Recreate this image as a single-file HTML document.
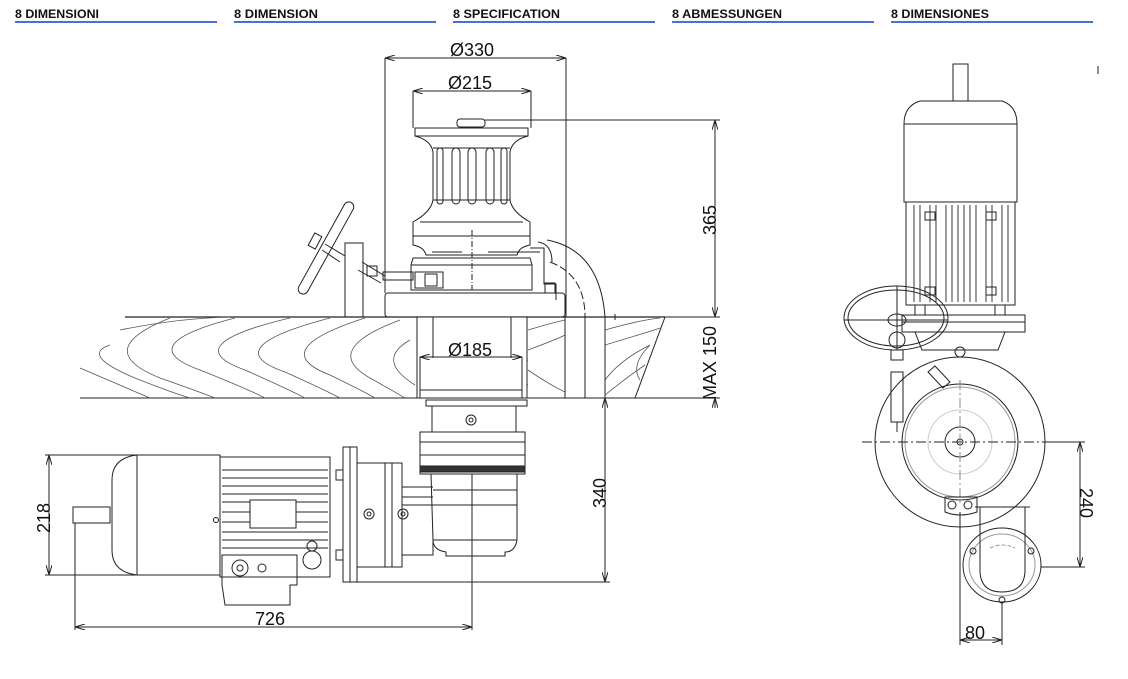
<!DOCTYPE html>
<html><head><meta charset="utf-8"><style>
html,body{margin:0;padding:0;background:#fff;}
svg{display:block}
.h{font-family:"Liberation Sans",sans-serif;font-weight:bold;font-size:12px;fill:#111;}
.d{font-family:"Liberation Sans",sans-serif;font-size:18px;fill:#111;}
</style></head><body>
<svg width="1128" height="679" viewBox="0 0 1128 679" xmlns="http://www.w3.org/2000/svg">
<defs>
<marker id="a" viewBox="0 0 10 6" refX="10" refY="3" markerWidth="10" markerHeight="6" orient="auto-start-reverse"><path d="M0,0 L10,3 L0,6" fill="none" stroke="#222" stroke-width="1"/></marker>
</defs>
<g class="h">
<text x="15" y="18" textLength="84" lengthAdjust="spacingAndGlyphs">8 DIMENSIONI</text>
<text x="234" y="18" textLength="84" lengthAdjust="spacingAndGlyphs">8 DIMENSION</text>
<text x="453" y="18" textLength="107" lengthAdjust="spacingAndGlyphs">8 SPECIFICATION</text>
<text x="672" y="18" textLength="110" lengthAdjust="spacingAndGlyphs">8 ABMESSUNGEN</text>
<text x="891" y="18" textLength="98" lengthAdjust="spacingAndGlyphs">8 DIMENSIONES</text>
</g>
<g fill="#4a6fd6">
<rect x="15" y="21" width="202" height="2"/><rect x="234" y="21" width="202" height="2"/>
<rect x="453" y="21" width="202" height="2"/><rect x="672" y="21" width="202" height="2"/>
<rect x="891" y="21" width="202" height="2"/>
</g>
<g fill="none" stroke="#222" stroke-width="1">
<line x1="125" y1="317" x2="665" y2="317" stroke-width="1.3"/>
<line x1="80" y1="398" x2="665" y2="398"/>
<line x1="665" y1="317" x2="635" y2="398"/>
<g stroke="#555" stroke-width="0.8">
<path d="M120,330 Q180,318 230,317"/>
<path d="M110,345 Q80,355 135,378 Q170,392 190,398"/>
<path d="M170,318 Q90,350 160,378 Q200,392 215,398"/>
<path d="M235,318 Q130,345 200,370 Q250,390 265,398"/>
<path d="M290,318 Q175,345 245,370 Q290,390 305,398"/>
<path d="M330,318 Q215,348 285,372 Q325,390 340,398"/>
<path d="M365,318 Q265,350 330,375 Q365,392 375,398"/>
<path d="M400,320 Q320,350 370,378 Q395,392 405,398"/>
<path d="M410,340 Q375,360 415,385"/>
<path d="M80,368 Q120,385 150,398"/>
<path d="M528,330 Q555,322 565,320"/>
<path d="M528,350 Q560,338 565,335"/>
<path d="M528,370 Q550,385 565,392"/>
<path d="M528,360 Q500,370 528,385"/>
<path d="M605,330 Q640,320 660,318"/>
<path d="M605,345 Q655,330 660,328"/>
<path d="M605,380 Q620,360 650,345 Q630,365 640,380"/>
<path d="M605,395 Q630,375 645,365"/>
</g>
<rect x="417" y="317" width="110" height="81" fill="#fff"/>
<line x1="433" y1="317" x2="433" y2="358"/><line x1="511" y1="317" x2="511" y2="358"/>
<rect x="420" y="357" width="102" height="41"/>
<line x1="420" y1="390" x2="522" y2="390"/>
<line x1="565" y1="317" x2="565" y2="398"/>
<line x1="585" y1="317" x2="585" y2="398"/>
<line x1="605" y1="317" x2="605" y2="398"/>
<rect x="457" y="119" width="28" height="8" rx="3"/>
<path d="M415,128 L528,128 L528,136 Q512,140 510,152 L510,200 Q512,212 530,222 L530,236 L413,236 L413,222 Q431,212 433,200 L433,152 Q431,140 415,136 Z"/>
<line x1="415" y1="136" x2="528" y2="136"/>
<line x1="433" y1="200" x2="510" y2="200"/>
<line x1="420" y1="222" x2="523" y2="222"/>
<rect x="437" y="148" width="6" height="56" rx="3"/><rect x="452" y="148" width="8" height="56" rx="4"/>
<rect x="468" y="148" width="8" height="56" rx="4"/><rect x="486" y="148" width="8" height="56" rx="4"/>
<rect x="501" y="148" width="6" height="56" rx="3"/>
<line x1="433" y1="148" x2="510" y2="148"/>
<path d="M413,236 L413,245 Q424,247 426,255 L517,255 Q519,247 530,245 L530,236"/>
<line x1="432" y1="252" x2="462" y2="252"/><line x1="488" y1="252" x2="540" y2="252"/>
<path d="M413,258 L530,258 L532,265 L532,290 L411,290 L411,265 Z"/>
<line x1="411" y1="265" x2="532" y2="265"/>
<rect x="415" y="272" width="28" height="16"/><rect x="425" y="274" width="12" height="12"/>
<line x1="472" y1="230" x2="472" y2="290" stroke-dasharray="6,2,1,2"/>
<rect x="385" y="293" width="180" height="24" rx="3"/>
<path d="M530,248 L544,248 L544,284 L556,284 L556,300"/>
<rect x="545" y="283" width="10" height="10"/>
<path d="M538,242 Q552,244 552,262"/>
<path d="M547,240 Q600,250 605,317"/>
<path d="M550,262 Q585,275 585,317" stroke-dasharray="8,3"/>
<path d="M572,317 L615,317 M615,314 L615,320"/>
<rect x="345" y="243" width="18" height="74"/>
<rect x="321" y="196" width="10" height="104" rx="5" transform="rotate(29 326 248)"/>
<rect x="311" y="234" width="8" height="14" transform="rotate(28 315 241)"/>
<path d="M325,244 L345,256 M322,250 L340,262"/>
<path d="M362,262 L385,276 M358,270 L381,283"/>
<rect x="367" y="266" width="10" height="10"/>
<rect x="383" y="272" width="30" height="8"/>
<line x1="385" y1="58" x2="385" y2="293"/>
<line x1="566" y1="58" x2="566" y2="317"/>
<line x1="385" y1="58" x2="566" y2="58" marker-start="url(#a)" marker-end="url(#a)"/>
<line x1="413" y1="91" x2="413" y2="128"/>
<line x1="531" y1="91" x2="531" y2="128"/>
<line x1="413" y1="91" x2="531" y2="91" marker-start="url(#a)" marker-end="url(#a)"/>
<line x1="485" y1="120" x2="720" y2="120"/>
<line x1="715" y1="120" x2="715" y2="317" marker-start="url(#a)" marker-end="url(#a)"/>
<line x1="665" y1="317" x2="720" y2="317"/>
<line x1="665" y1="398" x2="720" y2="398"/>
<line x1="715" y1="398" x2="715" y2="408" marker-start="url(#a)"/>
<line x1="420" y1="357" x2="522" y2="357" marker-start="url(#a)" marker-end="url(#a)"/>
<path d="M426,400 L527,400 L527,406 L426,406 Z"/>
<path d="M432,406 L516,406 L516,432 L432,432 Z"/>
<circle cx="471" cy="420" r="5"/><circle cx="471" cy="420" r="2"/>
<rect x="420" y="432" width="105" height="42"/>
<line x1="420" y1="442" x2="525" y2="442"/><line x1="420" y1="455" x2="525" y2="455"/>
<rect x="420" y="466" width="105" height="6" fill="#333"/>
<path d="M431,474 L517,474 L517,540 Q515,552 505,552 L505,556 L446,556 L446,552 Q433,550 433,540 Z"/>
<line x1="433" y1="490" x2="517" y2="490"/><line x1="433" y1="505" x2="517" y2="505"/><line x1="433" y1="540" x2="517" y2="540"/>
<line x1="472" y1="474" x2="472" y2="630"/>
<rect x="73" y="507" width="37" height="16"/>
<path d="M137,455 L220,455 L220,575 L137,575 Q112,572 112,550 L112,480 Q112,458 137,455 Z"/>
<line x1="137" y1="455" x2="137" y2="575"/>
<path d="M220,457 L330,457 L330,577 L220,577 Z"/>
<g stroke-width="0.9">
<line x1="222" y1="470" x2="328" y2="470"/><line x1="222" y1="478" x2="328" y2="478"/>
<line x1="222" y1="486" x2="328" y2="486"/><line x1="222" y1="494" x2="328" y2="494"/>
<line x1="222" y1="502" x2="250" y2="502"/><line x1="296" y1="502" x2="328" y2="502"/>
<line x1="222" y1="512" x2="250" y2="512"/><line x1="296" y1="512" x2="328" y2="512"/>
<line x1="222" y1="522" x2="250" y2="522"/><line x1="296" y1="522" x2="328" y2="522"/>
<line x1="222" y1="532" x2="328" y2="532"/><line x1="222" y1="540" x2="328" y2="540"/>
<line x1="222" y1="548" x2="328" y2="548"/>
</g>
<rect x="250" y="500" width="46" height="28"/>
<circle cx="216" cy="520" r="2.5"/>
<path d="M222,555 L297,555 L297,585 L290,585 L290,605 L225,605 L222,585 Z"/>
<circle cx="240" cy="568" r="8"/><circle cx="240" cy="568" r="3"/>
<circle cx="262" cy="568" r="4"/>
<circle cx="312" cy="560" r="9"/><circle cx="312" cy="546" r="5"/>
<rect x="343" y="447" width="14" height="135"/>
<line x1="350" y1="447" x2="350" y2="582"/>
<rect x="336" y="470" width="7" height="10"/><rect x="336" y="550" width="7" height="10"/>
<path d="M357,463 L385,463 L385,567 L357,567"/>
<circle cx="369" cy="514" r="5"/><circle cx="369" cy="514" r="2"/>
<rect x="385" y="463" width="17" height="104"/>
<line x1="392" y1="463" x2="392" y2="567"/>
<path d="M402,487 L433,487 M402,555 L433,555 L433,540"/>
<line x1="402" y1="497" x2="433" y2="497"/><line x1="402" y1="505" x2="433" y2="505"/>
<circle cx="403" cy="514" r="5"/><circle cx="403" cy="514" r="2"/>
<line x1="45" y1="455" x2="137" y2="455"/><line x1="45" y1="575" x2="137" y2="575"/>
<line x1="49" y1="455" x2="49" y2="575" marker-start="url(#a)" marker-end="url(#a)"/>
<line x1="75" y1="523" x2="75" y2="630"/>
<line x1="75" y1="627" x2="472" y2="627" marker-start="url(#a)" marker-end="url(#a)"/>
<line x1="357" y1="582" x2="610" y2="582"/>
<line x1="605" y1="398" x2="605" y2="582" marker-start="url(#a)" marker-end="url(#a)"/>
<rect x="953" y="64" width="15" height="37"/>
<path d="M920,101 L1002,101 Q1017,106 1017,124 L1017,202 L904,202 L904,124 Q904,106 920,101 Z"/>
<line x1="904" y1="124" x2="1017" y2="124"/>
<path d="M906,202 L1015,202 L1015,305 L906,305 Z"/>
<g stroke-width="0.9">
<line x1="914" y1="205" x2="914" y2="302"/><line x1="920" y1="205" x2="920" y2="302"/>
<line x1="930" y1="205" x2="930" y2="302"/><line x1="936" y1="205" x2="936" y2="302"/>
<line x1="946" y1="205" x2="946" y2="302"/><line x1="952" y1="205" x2="952" y2="302"/>
<line x1="958" y1="205" x2="958" y2="302"/><line x1="964" y1="205" x2="964" y2="302"/>
<line x1="970" y1="205" x2="970" y2="302"/><line x1="976" y1="205" x2="976" y2="302"/>
<line x1="986" y1="205" x2="986" y2="302"/><line x1="992" y1="205" x2="992" y2="302"/>
<line x1="1002" y1="205" x2="1002" y2="302"/><line x1="1008" y1="205" x2="1008" y2="302"/>
</g>
<rect x="925" y="212" width="10" height="8"/><rect x="986" y="212" width="10" height="8"/>
<rect x="925" y="287" width="10" height="8"/><rect x="986" y="287" width="10" height="8"/>
<rect x="902" y="315" width="123" height="17"/>
<line x1="902" y1="322" x2="1025" y2="322"/>
<rect x="915" y="305" width="10" height="10"/><rect x="995" y="305" width="10" height="10"/>
<path d="M915,332 L1005,332 L998,350 L922,350 Z"/>
<circle cx="960" cy="352" r="5"/>
<ellipse cx="896" cy="318" rx="52" ry="32"/>
<ellipse cx="896" cy="318" rx="48" ry="28"/>
<line x1="844" y1="320" x2="948" y2="320"/>
<line x1="897" y1="286" x2="897" y2="350"/>
<ellipse cx="897" cy="320" rx="9" ry="6"/>
<circle cx="897" cy="340" r="8"/>
<rect x="891" y="350" width="12" height="10"/>
<rect x="891" y="372" width="12" height="50"/>
<line x1="897" y1="422" x2="897" y2="432"/>
<circle cx="960" cy="442" r="85"/>
<circle cx="960" cy="442" r="58"/>
<circle cx="960" cy="442" r="55" stroke="#999"/>
<circle cx="960" cy="442" r="15"/><circle cx="960" cy="442" r="3"/>
<circle cx="960" cy="442" r="32" stroke="#ccc"/>
<line x1="862" y1="442" x2="1045" y2="442" stroke-dasharray="10,3,2,3"/>
<line x1="960" y1="380" x2="960" y2="505" stroke-dasharray="10,3,2,3" stroke="#888"/>
<path d="M928,372 L935,366 L950,382 L943,388 Z"/>
<path d="M945,497 L977,497 L977,512 Q960,518 945,512 Z"/>
<circle cx="952" cy="505" r="4"/><circle cx="968" cy="505" r="4"/>
<ellipse cx="1002" cy="565" rx="39" ry="37"/>
<ellipse cx="1002" cy="565" rx="33" ry="31" stroke="#999"/>
<path d="M980,507 L980,570 Q980,592 1002,592 Q1025,592 1025,570 L1025,507"/>
<line x1="975" y1="507" x2="1030" y2="507"/>
<path d="M990,548 Q1002,542 1015,548" stroke="#999" stroke-dasharray="4,2"/>
<circle cx="1002" cy="600" r="3"/><circle cx="973" cy="551" r="3"/><circle cx="1031" cy="551" r="3"/>
<line x1="1045" y1="442" x2="1085" y2="442"/>
<line x1="1041" y1="567" x2="1085" y2="567"/>
<line x1="1080" y1="442" x2="1080" y2="567" marker-start="url(#a)" marker-end="url(#a)"/>
<line x1="960" y1="512" x2="960" y2="645"/>
<line x1="1002" y1="602" x2="1002" y2="645"/>
<line x1="960" y1="640" x2="1002" y2="640" marker-start="url(#a)" marker-end="url(#a)"/>
<line x1="1098" y1="66" x2="1098" y2="74"/>
</g>
<g class="d">
<text x="450" y="56">Ø330</text>
<text x="448" y="89">Ø215</text>
<text x="448" y="356">Ø185</text>
<text x="255" y="625">726</text>
<text x="965" y="639">80</text>
<text transform="translate(716,235) rotate(-90)">365</text>
<text transform="translate(716,400) rotate(-90)">MAX 150</text>
<text transform="translate(606,508) rotate(-90)">340</text>
<text transform="translate(50,533) rotate(-90)">218</text>
<text transform="translate(1080,488) rotate(90)">240</text>
</g>
</svg>
</body></html>
